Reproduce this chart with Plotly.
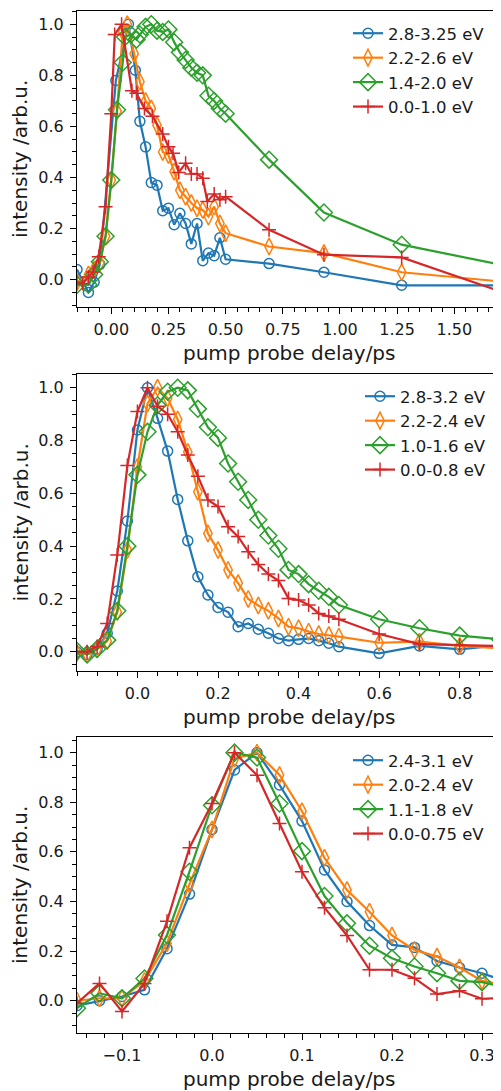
import plotly.graph_objects as go

# ---- panel 1 (top) ----
t1_blue = [-0.15, -0.10, -0.075, -0.05, 0.02, 0.075, 0.105, 0.125, 0.15, 0.175,
           0.20, 0.225, 0.25, 0.275, 0.30, 0.325, 0.35, 0.375, 0.40, 0.425,
           0.45, 0.475, 0.50, 0.69, 0.93, 1.27, 1.75]
i1_blue = [0.04, -0.05, -0.01, 0.06, 0.78, 1.0, 0.82, 0.62, 0.52, 0.38,
           0.37, 0.27, 0.28, 0.215, 0.26, 0.22, 0.14, 0.22, 0.074, 0.104,
           0.094, 0.164, 0.08, 0.063, 0.029, -0.022, -0.022]

t1_orange = [-0.15, -0.10, -0.075, -0.05, -0.025, 0.0, 0.025, 0.05, 0.07, 0.10,
             0.125, 0.15, 0.175, 0.20, 0.225, 0.25, 0.275, 0.30, 0.325, 0.35,
             0.375, 0.40, 0.425, 0.45, 0.475, 0.50, 0.69, 0.93, 1.27, 1.75]
i1_orange = [-0.01, 0.02, 0.04, 0.065, 0.17, 0.39, 0.66, 0.97, 1.0, 0.885,
             0.775, 0.70, 0.67, 0.605, 0.50, 0.488, 0.423, 0.35, 0.325, 0.30,
             0.28, 0.273, 0.247, 0.286, 0.22, 0.182, 0.13, 0.104, 0.029, -0.011]

t1_green = [-0.15, -0.10, -0.075, -0.05, -0.025, 0.0, 0.025, 0.05, 0.06, 0.085,
            0.11, 0.125, 0.15, 0.175, 0.20, 0.225, 0.25, 0.275, 0.30, 0.325,
            0.35, 0.375, 0.40, 0.425, 0.45, 0.475, 0.50, 0.69, 0.93, 1.27, 1.75]
i1_green = [-0.02, -0.02, 0.02, 0.07, 0.17, 0.39, 0.665, 0.85, 0.95, 0.96,
            0.94, 0.96, 0.99, 1.0, 0.975, 0.97, 0.98, 0.93, 0.89, 0.86,
            0.83, 0.81, 0.80, 0.72, 0.70, 0.67, 0.65, 0.47, 0.263, 0.137, 0.05]

t1_red = [-0.15, -0.125, -0.10, -0.08, -0.055, -0.025, 0.0, 0.015, 0.045, 0.09,
          0.11, 0.145, 0.18, 0.225, 0.25, 0.27, 0.295, 0.325, 0.35, 0.375,
          0.40, 0.42, 0.45, 0.475, 0.50, 0.69, 0.93, 1.27, 1.75]
i1_red = [-0.01, -0.015, 0.01, 0.03, 0.09, 0.286, 0.65, 0.96, 1.0, 0.74,
          0.73, 0.67, 0.64, 0.57, 0.52, 0.495, 0.42, 0.456, 0.414, 0.414,
          0.397, 0.306, 0.335, 0.3125, 0.325, 0.195, 0.098, 0.087, -0.061]

names1 = ["2.8-3.25 eV", "2.2-2.6 eV", "1.4-2.0 eV", "0.0-1.0 eV"]

# ---- panel 2 (middle) ----
t2 = [-0.15, -0.125, -0.10, -0.075, -0.05, -0.025, 0.0, 0.025, 0.05, 0.075,
      0.10, 0.125, 0.15, 0.175, 0.20, 0.225, 0.25, 0.275, 0.30, 0.325,
      0.35, 0.375, 0.40, 0.425, 0.45, 0.475, 0.50, 0.60, 0.70, 0.80, 0.90]
i2_blue = [0.0, -0.01, 0.01, 0.07, 0.23, 0.495, 0.84, 1.0, 0.884, 0.76,
           0.577, 0.42, 0.284, 0.215, 0.168, 0.15, 0.095, 0.107, 0.085, 0.07,
           0.05, 0.042, 0.047, 0.05, 0.042, 0.032, 0.019, -0.006, 0.022, 0.009, 0.025]
i2_orange = [-0.005, -0.01, 0.01, 0.04, 0.15, 0.385, 0.70, 0.94, 1.0, 0.96,
             0.88, 0.757, 0.606, 0.448, 0.385, 0.31, 0.26, 0.20, 0.175, 0.155,
             0.126, 0.095, 0.089, 0.076, 0.067, 0.063, 0.057, 0.034, 0.038, 0.022, 0.013]
i2_green = [0.003, -0.01, 0.01, 0.044, 0.155, 0.40, 0.67, 0.833, 0.934, 0.985,
            1.0, 0.99, 0.92, 0.85, 0.81, 0.713, 0.644, 0.575, 0.50, 0.44,
            0.39, 0.31, 0.294, 0.256, 0.231, 0.208, 0.177, 0.123, 0.089, 0.061, 0.047]
i2_red = [0.0, 0.0, 0.02, 0.107, 0.366, 0.705, 0.91, 1.0, 0.93, 0.90,
          0.833, 0.745, 0.665, 0.575, 0.55, 0.473, 0.436, 0.379, 0.33, 0.294,
          0.27, 0.202, 0.196, 0.177, 0.145, 0.135, 0.123, 0.067, 0.029, 0.025, 0.022]

names2 = ["2.8-3.2 eV", "2.2-2.4 eV", "1.0-1.6 eV", "0.0-0.8 eV"]

# ---- panel 3 (bottom) ----
t3 = [-0.15, -0.125, -0.10, -0.075, -0.05, -0.025, 0.0, 0.025, 0.05, 0.075,
      0.10, 0.125, 0.15, 0.175, 0.20, 0.225, 0.25, 0.275, 0.30, 0.325]
i3_blue = [-0.02, 0.0, 0.017, 0.044, 0.21, 0.43, 0.69, 0.93, 1.0, 0.87,
           0.724, 0.527, 0.40, 0.303, 0.225, 0.215, 0.16, 0.134, 0.111, 0.08]
i3_orange = [0.0, 0.01, 0.01, 0.08, 0.232, 0.47, 0.69, 0.976, 1.0, 0.91,
             0.764, 0.576, 0.446, 0.359, 0.263, 0.205, 0.178, 0.134, 0.08, 0.063]
i3_green = [-0.03, 0.03, 0.01, 0.09, 0.265, 0.52, 0.788, 1.0, 0.98, 0.795,
            0.603, 0.422, 0.312, 0.222, 0.171, 0.138, 0.111, 0.08, 0.075, 0.055]
i3_red = [-0.01, 0.07, -0.043, 0.07, 0.32, 0.617, 0.795, 1.0, 0.909, 0.714,
          0.52, 0.375, 0.263, 0.125, 0.125, 0.091, 0.027, 0.04, 0.008, 0.012]

names3 = ["2.4-3.1 eV", "2.0-2.4 eV", "1.1-1.8 eV", "0.0-0.75 eV"]

colors = ["#1f77b4", "#ff7f0e", "#2ca02c", "#d62728"]
symbols = ["circle-open", "diamond-tall-open", "diamond-open", "cross-thin-open"]
sizes = [10, 12, 13, 10]

FONT = "DejaVu Sans"
TXT = "#1a1a1a"

fig = go.Figure()

panels = [
    ([t1_blue, t1_orange, t1_green, t1_red], [i1_blue, i1_orange, i1_green, i1_red], names1),
    ([t2, t2, t2, t2], [i2_blue, i2_orange, i2_green, i2_red], names2),
    ([t3, t3, t3, t3], [i3_blue, i3_orange, i3_green, i3_red], names3),
]

for p, (ts, ys, names) in enumerate(panels):
    ax = "" if p == 0 else str(p + 1)
    for k in range(4):
        fig.add_trace(go.Scatter(
            x=ts[k], y=ys[k], name=names[k], mode="lines+markers",
            line=dict(color=colors[k], width=2.2),
            marker=dict(symbol=symbols[k], size=sizes[k], color=colors[k],
                        line=dict(width=1.5, color=colors[k])),
            xaxis="x" + ax, yaxis="y" + ax,
            legend="legend" + ax, cliponaxis=True,
        ))


def xstyle(rng, dtick, mdtick, fmt, anchor):
    return dict(range=rng, dtick=dtick, tick0=0, tickformat=fmt, anchor=anchor,
                ticks="outside", ticklen=6, tickwidth=1.2, tickcolor="black",
                showline=True, linecolor="black", linewidth=1.2, mirror=True,
                showgrid=False, zeroline=False, domain=[0, 1], automargin=False,
                minor=dict(dtick=mdtick, tick0=0, ticks="outside", ticklen=3.5,
                           tickwidth=1, tickcolor="black", showgrid=False),
                tickfont=dict(family=FONT, size=16, color=TXT),
                ticklabelstandoff=2)


def ystyle(rng, dom, anchor):
    return dict(range=rng, dtick=0.2, tick0=0, tickformat=".1f", anchor=anchor,
                ticks="outside", ticklen=6, tickwidth=1.2, tickcolor="black",
                showline=True, linecolor="black", linewidth=1.2, mirror=True,
                showgrid=False, zeroline=False, domain=dom, automargin=False,
                minor=dict(dtick=0.05, tick0=0, ticks="outside", ticklen=3.5,
                           tickwidth=1, tickcolor="black", showgrid=False),
                tickfont=dict(family=FONT, size=16, color=TXT),
                ticklabelstandoff=3)


# the page body has an 8px margin, so the figure is placed from (8, 8)
OFF = 8
W, H = 501 - OFF, 1091 - OFF
PL, PR = 77, 500            # plot-area left/right in page pixels
ML, MR = PL - OFF, 501 - PR
MT = 11 - OFF
MB = (1091 - 1033)
ph = H - MT - MB
pw = W - ML - MR


def dom(top_px, bot_px):
    return [(1091 - MB - bot_px) / ph, (1091 - MB - top_px) / ph]


def leg(top_px, left_px):
    return dict(x=(left_px - PL) / pw, xanchor="left",
                y=(1091 - MB - top_px) / ph, yanchor="top",
                bgcolor="rgba(0,0,0,0)", borderwidth=0,
                font=dict(family=FONT, size=16.5, color=TXT),
                tracegroupgap=0)


fig.update_layout(
    width=W, height=H,
    margin=dict(l=ML, r=MR, t=MT, b=MB, autoexpand=False),
    paper_bgcolor="white", plot_bgcolor="white",
    showlegend=True,
    xaxis=xstyle([-0.15, 1.70], 0.25, 0.05, ".2f", "y"),
    yaxis=ystyle([-0.107, 1.052], dom(11, 307), "x"),
    xaxis2=xstyle([-0.15, 0.90], 0.2, 0.05, ".1f", "y2"),
    yaxis2=ystyle([-0.073, 1.052], dom(374, 671), "x2"),
    xaxis3=xstyle([-0.15, 0.32], 0.1, 0.02, ".1f", "y3"),
    yaxis3=ystyle([-0.13, 1.063], dom(737, 1033), "x3"),
    legend=leg(16, 348),
    legend2=leg(379, 360),
    legend3=leg(743, 348),
)

for p in range(3):
    ax = "" if p == 0 else str(p + 1)
    fig.add_annotation(text="pump probe delay/ps", xref="x" + ax + " domain",
                       yref="y" + ax + " domain", x=0.5, y=0, yshift=-46,
                       xanchor="center", yanchor="middle", showarrow=False,
                       font=dict(family=FONT, size=20, color=TXT))
    fig.add_annotation(text="intensity /arb.u.", xref="x" + ax + " domain",
                       yref="y" + ax + " domain", x=-57 / pw, y=0.5,
                       textangle=-90, xanchor="center", yanchor="middle",
                       showarrow=False, font=dict(family=FONT, size=20, color=TXT))

fig.write_html("out.html")
